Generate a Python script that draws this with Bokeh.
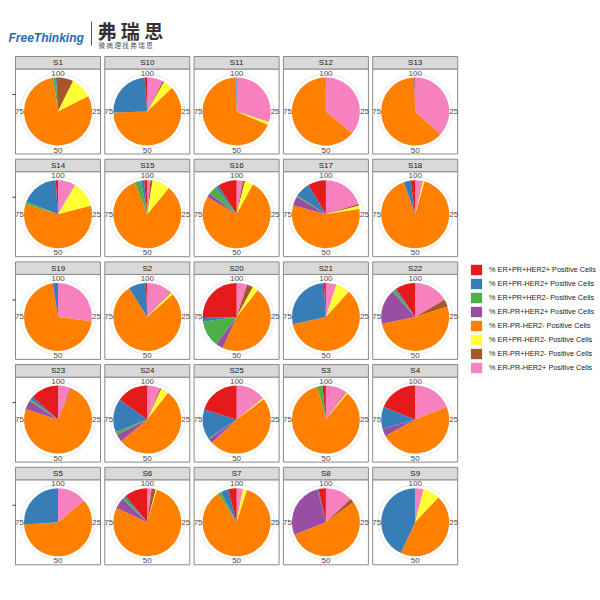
import numpy as np
from bokeh.plotting import figure
from bokeh.models import Range1d, Legend, LegendItem, ColumnDataSource
from bokeh.core.properties import value
from bokeh.embed import file_html
from bokeh.resources import INLINE

# ---------------- data ----------------
samples = ["S1", "S10", "S11", "S12", "S13",
           "S14", "S15", "S16", "S17", "S18",
           "S19", "S2", "S20", "S21", "S22",
           "S23", "S24", "S25", "S3", "S4",
           "S5", "S6", "S7", "S8", "S9"]

# legend order (factor levels)
categories = ["% ER+PR+HER2+ Positive Cells", "% ER+PR-HER2+ Positive Cells",
              "% ER+PR+HER2- Positive Cells", "% ER-PR+HER2+ Positive Cells",
              "% ER-PR-HER2- Positive Cells", "% ER+PR-HER2- Positive Cells",
              "% ER-PR+HER2- Positive Cells", "% ER-PR-HER2+ Positive Cells"]
colors = ["#E41A1C", "#377EB8", "#4DAF4A", "#984EA3",
          "#FF7F00", "#FFFF33", "#A65628", "#F781BF"]

# values (%) per sample, in the order of `samples`
er_pr_her2_pos_pos_pos = [0, 1.3, 0, 0, 0, 1.1, 1.5, 9, 8.6, 2.2, 0, 0.7, 25.5, 1, 9.5,
                          13.5, 15.1, 20.2, 1.6, 19, 0, 11, 4, 3.5, 0]          # red
er_pos_pr_neg_her2_pos = [1.0, 24.2, 0.5, 0.3, 0, 17.9, 1.5, 1.5, 7.3, 3.2, 2.5, 8.3, 1.8, 27.5, 0.7,
                          1.5, 15.9, 14.3, 0, 10.5, 26, 1, 3.5, 0.5, 43]        # blue
er_pos_pr_pos_her2_neg = [1.3, 0, 0, 0, 0, 1.1, 3, 4, 0.5, 0, 0, 0, 12.5, 0, 1.3,
                          0.7, 1.4, 0.3, 2.5, 0, 0, 1, 1.5, 0, 0]               # green
er_neg_pr_pos_her2_pos = [0, 0, 0, 0, 0.5, 0, 0, 2, 4.4, 0, 0, 0, 3.5, 0, 16.7,
                          4.3, 3.6, 2.2, 0, 3.5, 0, 5, 0, 27, 0]                # purple
er_neg_pr_neg_her2_neg = [80.1, 61.6, 68, 63.7, 62.9, 58.9, 83, 75.5, 56.7, 90.1, 70.5, 77.5, 46, 59.7, 51.8,
                          73.5, 53.5, 48.2, 84.9, 48.2, 60, 77.5, 86, 54, 45]   # orange
er_pos_pr_neg_her2_neg = [10.3, 4.7, 1.5, 0, 0, 12.5, 8.5, 4, 1.5, 0.8, 0, 1.2, 2.7, 6.8, 0,
                          0, 3.7, 0.6, 0.7, 0, 0, 0.5, 2, 0, 8]                 # yellow
er_neg_pr_pos_her2_neg = [7.3, 0.7, 0, 0, 0, 0, 1, 1, 0.8, 0, 0, 0.3, 3, 0, 3.4,
                          0.5, 0.6, 0, 0.4, 0, 0, 2, 0, 2, 0]                   # brown
er_neg_pr_neg_her2_pos = [0, 7.5, 30, 36, 36.6, 8.5, 1.5, 3, 20.2, 3.7, 27, 12, 5, 5, 16.6,
                          6, 6.2, 14.2, 9.9, 18.8, 14, 2, 3, 13, 4]             # pink

series = [er_pr_her2_pos_pos_pos, er_pos_pr_neg_her2_pos, er_pos_pr_pos_her2_neg,
          er_neg_pr_pos_her2_pos, er_neg_pr_neg_her2_neg, er_pos_pr_neg_her2_neg,
          er_neg_pr_pos_her2_neg, er_neg_pr_neg_her2_pos]

theta_ticks = [100, 25, 50, 75]

# ---------------- layout ----------------
W = H = 600
ncol = 5
col_x0, col_step = 15.0, 89.3
row_y0, row_step = 56.0, 102.7
panel_w = 85.0
strip_h = 12.5
R_PIE = 34.0
R_GRID = 37.5
R_LAB = 38.5
FONT = "Liberation Sans"


def Y(py):
    return H - py


p = figure(width=W, height=H, x_range=Range1d(0, W), y_range=Range1d(0, H),
           output_backend="svg", toolbar_location=None, min_border=0)
p.axis.visible = False
p.grid.visible = False
p.outline_line_color = None
p.background_fill_color = "white"

cx, cy, stx, sty = [], [], [], []
for i, s in enumerate(samples):
    r, c = divmod(i, ncol)
    x0 = col_x0 + c * col_step
    top = row_y0 + r * row_step
    cx.append(x0 + panel_w / 2)
    cy.append(Y(top + strip_h + panel_w / 2))
    stx.append(x0 + panel_w / 2)
    sty.append(Y(top + strip_h / 2))

# panels and strips
p.rect(x=cx, y=cy, width=panel_w, height=panel_w, fill_color="white",
       line_color="#8a8a8a", line_width=1)
p.rect(x=stx, y=sty, width=panel_w, height=strip_h, fill_color="#d9d9d9",
       line_color="#8a8a8a", line_width=1)
p.text(x=stx, y=sty, text=samples, text_align="center", text_baseline="middle",
       text_font=value(FONT), text_font_size="8px", text_color="#1a1a1a")

# polar grid circle
p.scatter(x=cx, y=cy, size=2 * R_GRID, marker="circle", fill_color=None,
          line_color="#ebebeb", line_width=1)

# pie wedges: stacking order clockwise from 0 is reverse of legend order
stack_order = list(range(len(categories)))[::-1]
cum = np.zeros(len(samples))
renderers = {}
for k in stack_order:
    vals = np.array(series[k], dtype=float)
    c0 = cum.copy()
    c1 = cum + vals
    cum = c1
    mask = vals > 0
    src = ColumnDataSource(dict(
        x=np.array(cx)[mask], y=np.array(cy)[mask],
        start=(np.pi / 2 - 2 * np.pi * c1 / 100)[mask],
        end=(np.pi / 2 - 2 * np.pi * c0 / 100)[mask]))
    renderers[k] = p.wedge(x="x", y="y", radius=R_PIE, start_angle="start",
                           end_angle="end", fill_color=colors[k], line_color=None,
                           source=src)

# theta labels
lx, ly, lt = [], [], []
for x, y in zip(cx, cy):
    for t in theta_ticks:
        a = np.pi / 2 - 2 * np.pi * (t % 100) / 100
        lx.append(x + R_LAB * np.cos(a))
        ly.append(y + R_LAB * np.sin(a))
        lt.append(str(t))
p.text(x=lx, y=ly, text=lt, text_align="center", text_baseline="middle",
       text_font=value(FONT), text_font_size="8px", text_color="#4d4d4d")

# radial axis tick on first column
tick_y = [cy[i] + R_PIE / 2 for i in range(0, len(samples), ncol)]
p.segment(x0=[col_x0 - 3] * len(tick_y), y0=tick_y, x1=[col_x0] * len(tick_y), y1=tick_y,
          line_color="#333333", line_width=1)

# legend
legend = Legend(items=[LegendItem(label=categories[k], renderers=[renderers[k]])
                       for k in range(len(categories))],
                location=(469, 226), glyph_width=14, glyph_height=13, label_height=13,
                spacing=1, padding=0, margin=0, label_standoff=6,
                label_text_font=FONT, label_text_font_size="7.3px",
                label_text_color="#1a1a1a", border_line_color=None,
                background_fill_alpha=0)
p.add_layout(legend)

# logo
p.text(x=[8], y=[Y(37)], text=["FreeThinking"], text_align="left", text_baseline="middle",
       text_font=value(FONT), text_font_style="bold italic", text_font_size="12px",
       text_color="#2a68b4")
p.segment(x0=[91], y0=[Y(21)], x1=[91], y1=[Y(45)], line_color="#555555", line_width=1)
p.text(x=[97], y=[Y(30)], text=["弗 瑞 思"], text_align="left", text_baseline="middle",
       text_font=value("Noto Sans CJK SC"), text_font_style="bold", text_font_size="19px",
       text_color="#333333")
p.text(x=[98], y=[Y(44)], text=["微  病  理  找  弗  瑞  思"], text_align="left",
       text_baseline="middle", text_font=value("Noto Sans CJK SC"),
       text_font_size="6.5px", text_color="#555555")

open("out.html", "w").write(file_html(p, INLINE))
